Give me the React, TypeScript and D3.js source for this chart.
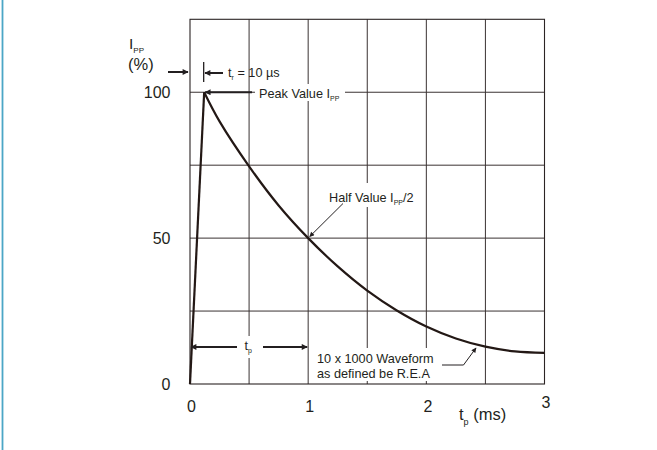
import * as React from 'react';
import * as d3 from 'd3';

// 10 x 1000 us surge waveform
const timeMs = [0, 0.12, 0.25, 0.5, 0.75, 1, 1.25, 1.5, 1.75, 2, 2.25, 2.5, 2.75, 3];
const currentPct = [0, 100, 90, 74.6, 61.2, 50, 40.3, 32, 25.2, 19.7, 15.6, 12.8, 11.2, 10.7];

const xTicks = [0, 1, 2, 3];
const yTicks = [0, 50, 100];
const xGrid = [0.5, 1, 1.5, 2, 2.5];
const yGrid = [25, 50, 75, 100];

const W = 657;
const H = 450;
const ink = '#231f20';
const font = '"Liberation Sans", Arial, Helvetica, sans-serif';

const App = () => {
    const x = d3.scaleLinear().domain([0, 3]).range([190, 544.5]);
    const y = d3.scaleLinear().domain([0, 125]).range([384, 19.3]);

    const pts = timeMs.map((t, i) => [t, currentPct[i]] as [number, number]);
    const rise = d3.line<[number, number]>().x(d => x(d[0])).y(d => y(d[1]))(pts.slice(0, 2))!;
    const decay = d3.line<[number, number]>()
        .x(d => x(d[0])).y(d => y(d[1]))
        .curve(d3.curveCatmullRom.alpha(0.5))(pts.slice(1))!;

    const peakT = timeMs[1];
    const tpLevel = 12.7;

    return (
        <svg width={W} height={H} style={{ position: 'absolute', left: 0, top: 0, background: '#fff' }}
            fontFamily={font}>
            <defs>
                <marker id="ah" viewBox="0 0 10 10" refX="9" refY="5" markerUnits="userSpaceOnUse"
                    markerWidth="8" markerHeight="6" orient="auto-start-reverse">
                    <path d="M0,0 L10,5 L0,10 z" fill={ink} />
                </marker>
                <marker id="ahs" viewBox="0 0 10 10" refX="9" refY="5" markerUnits="userSpaceOnUse"
                    markerWidth="7" markerHeight="5" orient="auto-start-reverse">
                    <path d="M0,0 L10,5 L0,10 z" fill={ink} />
                </marker>
            </defs>

            {/* blue frame edge on the left */}
            <line x1={2.5} x2={2.5} y1={0} y2={H} stroke="#4ba6c6" strokeWidth={1.8} />

            {/* grid */}
            {xGrid.map(v => (
                <line key={'gx' + v} x1={x(v)} x2={x(v)} y1={y(125)} y2={y(0)} stroke="#3a3232" strokeWidth={1} />
            ))}
            {yGrid.map(v => (
                <line key={'gy' + v} x1={x(0)} x2={x(3)} y1={y(v)} y2={y(v)} stroke="#3a3232" strokeWidth={1} />
            ))}
            <rect x={x(0)} y={y(125)} width={x(3) - x(0)} height={y(0) - y(125)} fill="none" stroke="#2b2424" strokeWidth={1.1} />

            {/* white backings behind annotation text */}
            <rect x={255} y={84} width={90} height={17} fill="#fff" />
            <rect x={326} y={183} width={93} height={24} fill="#fff" />
            <rect x={238} y={336} width={24} height={22} fill="#fff" />
            <rect x={314} y={348} width={124} height={33} fill="#fff" />

            {/* waveform */}
            <path d={rise} fill="none" stroke="#231815" strokeWidth={2.2} />
            <path d={decay} fill="none" stroke="#231815" strokeWidth={2.2} />

            {/* y ticks */}
            {yTicks.map(v => (
                <text key={'yt' + v} x={170.5} y={y(v) + 5.8} textAnchor="end" fontSize={16} fill={ink}>{v}</text>
            ))}
            {/* x ticks */}
            {xTicks.map(v => (
                <text key={'xt' + v} x={x(v) + 1.5} y={v === 3 ? 408 : 411.5} textAnchor="middle" fontSize={16} fill={ink}>{v}</text>
            ))}

            {/* axis titles */}
            <text x={129} y={48.5} fontSize={15.5} fill={ink}>I
                <tspan fontSize={8} dy={4.5}>PP</tspan>
            </text>
            <text x={128} y={70} fontSize={16.5} fill={ink}>(%)</text>
            <text x={459} y={420} fontSize={16.5} fill={ink}>t
                <tspan fontSize={9} dy={5}>p</tspan>
                <tspan dy={-5}> (ms)</tspan>
            </text>

            {/* rise time marker */}
            <line x1={168} x2={188} y1={72} y2={72} stroke={ink} strokeWidth={2} markerEnd="url(#ah)" />
            <line x1={x(peakT) - 0.5} x2={x(peakT) - 0.5} y1={62} y2={82} stroke={ink} strokeWidth={1.3} />
            <line x1={223} x2={205} y1={73} y2={73} stroke={ink} strokeWidth={2} markerEnd="url(#ah)" />
            <text x={228} y={76.5} fontSize={12.7} fill={ink}>t
                <tspan fontSize={7} dy={3}>r</tspan>
                <tspan dy={-3}> = 10 µs</tspan>
            </text>

            {/* peak value */}
            <line x1={252} x2={x(peakT) + 1} y1={y(100)} y2={y(100)} stroke={ink} strokeWidth={2} markerEnd="url(#ah)" />
            <text x={259} y={97.5} fontSize={12.7} fill={ink}>Peak Value I
                <tspan fontSize={7} dy={3}>PP</tspan>
            </text>

            {/* half value */}
            <line x1={343} y1={203.5} x2={x(1) + 1.5} y2={y(50) - 1.5} stroke={ink} strokeWidth={1} markerEnd="url(#ahs)" />
            <text x={329} y={201.5} fontSize={12.7} fill={ink}>Half Value I
                <tspan fontSize={7} dy={3}>PP</tspan>
                <tspan dy={-3}>/2</tspan>
            </text>

            {/* pulse duration */}
            <line x1={237} x2={x(0) + 1} y1={y(tpLevel)} y2={y(tpLevel)} stroke={ink} strokeWidth={2} markerEnd="url(#ah)" />
            <line x1={263} x2={x(1) - 1} y1={y(tpLevel)} y2={y(tpLevel)} stroke={ink} strokeWidth={2} markerEnd="url(#ah)" />
            <text x={244.5} y={350} fontSize={12.7} fill={ink}>t
                <tspan fontSize={7} dy={3}>p</tspan>
            </text>

            {/* waveform label */}
            <polyline points="442,365 463.5,365 476,348" fill="none" stroke={ink} strokeWidth={1} markerEnd="url(#ahs)" />
            <text x={317} y={363} fontSize={12.7} fill={ink}>10 x 1000 Waveform</text>
            <text x={317} y={377.5} fontSize={12.7} fill={ink}>as defined be R.E.A</text>
        </svg>
    );
};

export default App;
